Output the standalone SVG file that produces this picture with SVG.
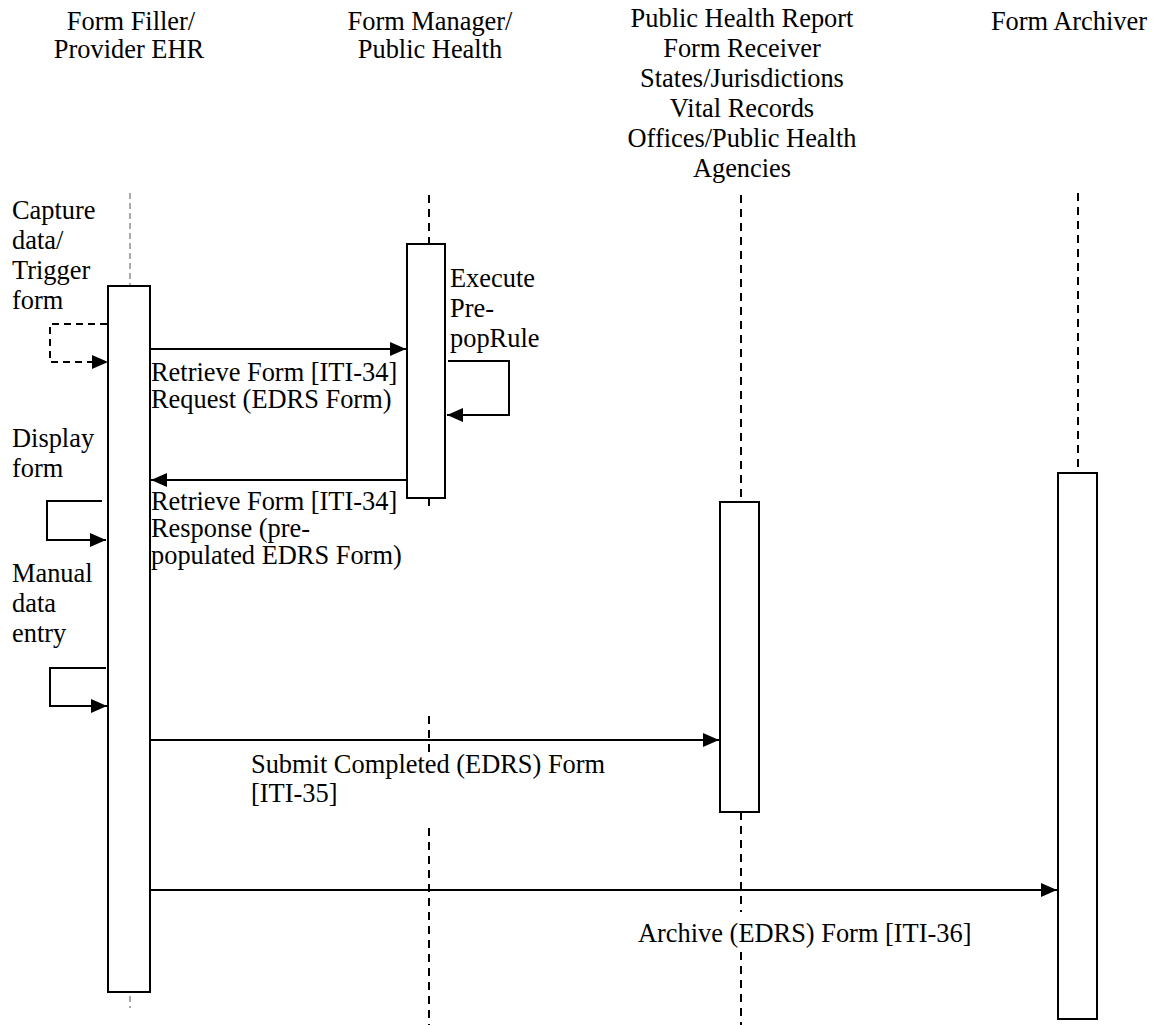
<svg xmlns="http://www.w3.org/2000/svg" width="1159" height="1025" viewBox="0 0 1159 1025" font-family="Liberation Serif, Times New Roman, serif">
  <style>
    text { font-family: 'Liberation Serif', 'Times New Roman', serif; font-size: 26.4px; fill: #000; }
    .hdr { text-anchor: middle; }
    .life { stroke: #000; stroke-width: 2; stroke-dasharray: 8 6; fill: none; }
    .life-thin { stroke: #555; stroke-width: 1; stroke-dasharray: 6 4; fill: none; }
    .act { fill: #fff; stroke: #000; stroke-width: 2; }
    .msg { stroke: #000; stroke-width: 2; fill: none; marker-end: url(#arr); }
    .self { stroke: #000; stroke-width: 2; fill: none; marker-end: url(#arr); }
    .dash { stroke-dasharray: 7 5; }
    .bg { fill: #fff; }
  </style>
  <defs>
    <marker id="arr" markerUnits="userSpaceOnUse" markerWidth="16" markerHeight="14" refX="16" refY="7" orient="auto">
      <path d="M0,0 L16,7 L0,14 z" fill="#000"/>
    </marker>
  </defs>

  <!-- Lifelines -->
  <g id="lifelines">
    <line class="life-thin" x1="130" y1="193" x2="130" y2="286"/>
    <line class="life-thin" x1="130" y1="996" x2="130" y2="1008"/>
    <line class="life" x1="429" y1="195" x2="429" y2="244"/>
    <line class="life" x1="429" y1="498" x2="429" y2="508"/>
    <line class="life" x1="429" y1="716" x2="429" y2="1025"/>
    <line class="life" x1="741" y1="195" x2="741" y2="502"/>
    <line class="life" x1="741" y1="812" x2="741" y2="1025"/>
    <line class="life" x1="1078" y1="193" x2="1078" y2="473"/>
  </g>

  <!-- Nodes -->
  <g id="form-filler">
    <text class="hdr" x="131" y="30">Form Filler/</text>
    <text class="hdr" x="129" y="58">Provider EHR</text>
    <rect class="act" x="108" y="286" width="42" height="706"/>
  </g>
  <g id="form-manager">
    <text class="hdr" x="430" y="30">Form Manager/</text>
    <text class="hdr" x="430" y="58">Public Health</text>
    <rect class="act" x="407" y="244" width="38" height="254"/>
  </g>
  <g id="public-health-receiver">
    <text class="hdr" x="742" y="27">Public Health Report</text>
    <text class="hdr" x="742" y="57">Form Receiver</text>
    <text class="hdr" x="742" y="87">States/Jurisdictions</text>
    <text class="hdr" x="742" y="117">Vital Records</text>
    <text class="hdr" x="742" y="147">Offices/Public Health</text>
    <text class="hdr" x="742" y="177">Agencies</text>
    <rect class="act" x="720" y="502" width="39" height="310"/>
  </g>
  <g id="form-archiver">
    <text class="hdr" x="1069" y="30">Form Archiver</text>
    <rect class="act" x="1058" y="473" width="39" height="546"/>
  </g>

  <!-- Notes -->
  <g id="notes">
    <text x="12" y="219">Capture</text>
    <text x="12" y="249">data/</text>
    <text x="12" y="279">Trigger</text>
    <text x="12" y="309">form</text>
    <text x="450" y="287">Execute</text>
    <text x="450" y="317">Pre-</text>
    <text x="450" y="347">popRule</text>
    <text x="12" y="447">Display</text>
    <text x="12" y="477">form</text>
    <text x="12" y="582">Manual</text>
    <text x="12" y="612">data</text>
    <text x="12" y="642">entry</text>
  </g>

  <!-- Connectors -->
  <g id="connectors">
    <polyline class="self dash" points="107,324 50,324 50,362 108,362"/>
    <line class="msg" x1="150" y1="349" x2="406" y2="349"/>
    <polyline class="self" points="448,361 509,361 509,415 447,415"/>
    <line class="msg" x1="407" y1="480" x2="151" y2="480"/>
    <polyline class="self" points="102,501 47,501 47,540 106,540"/>
    <polyline class="self" points="106,668 50,668 50,706 107,706"/>
    <line class="msg" x1="150" y1="740" x2="719" y2="740"/>
    <line class="msg" x1="150" y1="890" x2="1057" y2="890"/>
  </g>

  <!-- Connector labels -->
  <g id="connector-labels">
    <text x="151" y="381">Retrieve Form [ITI-34]</text>
    <text x="151" y="408">Request  (EDRS Form)</text>
    <text x="151" y="510">Retrieve Form [ITI-34]</text>
    <text x="151" y="537">Response  (pre-</text>
    <text x="151" y="564">populated EDRS Form)</text>
    <rect class="bg" x="248" y="756" width="370" height="66"/>
    <text x="251" y="773">Submit Completed (EDRS) Form</text>
    <text x="251" y="802">[ITI-35]</text>
    <rect class="bg" x="634" y="912" width="345" height="38"/>
    <text x="638" y="942">Archive (EDRS) Form [ITI-36]</text>
  </g>
</svg>
